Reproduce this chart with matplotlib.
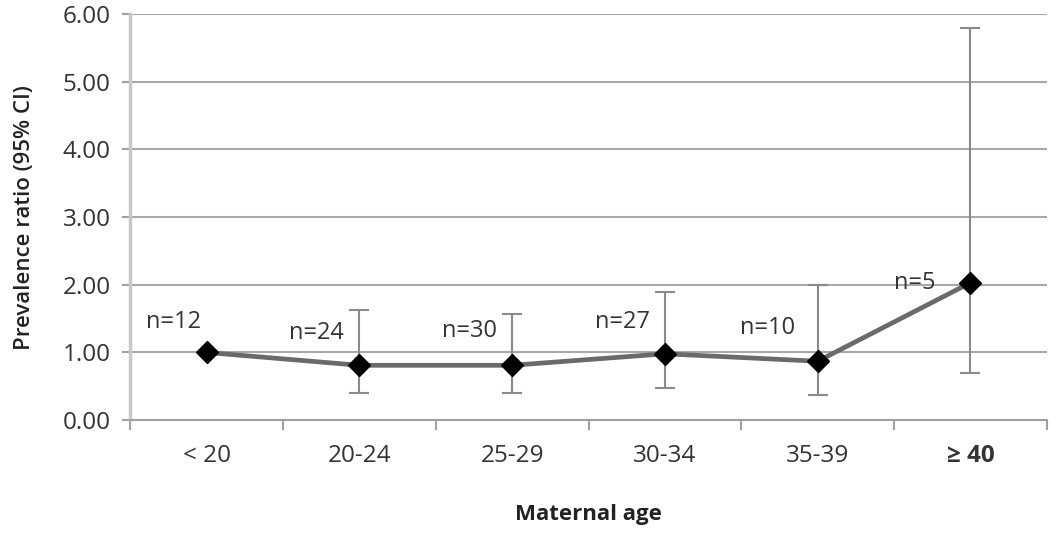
import matplotlib
matplotlib.use("Agg")
import matplotlib.pyplot as plt
import numpy as np

categories = ["< 20", "20-24", "25-29", "30-34", "35-39", "\u2265 40"]
ratio = [1.00, 0.81, 0.81, 0.98, 0.87, 2.03]
ci_low = [1.00, 0.40, 0.40, 0.47, 0.37, 0.70]
ci_high = [1.00, 1.62, 1.57, 1.90, 2.00, 5.80]
n_labels = ["n=12", "n=24", "n=30", "n=27", "n=10", "n=5"]
yticks = [0, 1, 2, 3, 4, 5, 6]

# label offsets in pixels (styling)
label_offsets = [(-33, 30), (-43, 32), (-43, 34), (-42, 32), (-50, 33), (-56, 0)]

plt.rcParams['font.family'] = ['Open Sans', 'DejaVu Sans']

fig = plt.figure(figsize=(10.5, 5.4), dpi=100)
ax = fig.add_axes([0.124, 0.222, 0.873, 0.752])

x = np.arange(len(categories))
r = np.array(ratio)
lo = np.array(ci_low)
hi = np.array(ci_high)
has_err = hi > lo
ax.errorbar(x[has_err], r[has_err], yerr=[r[has_err] - lo[has_err], hi[has_err] - r[has_err]],
            fmt='none', ecolor='#8a8a8a', elinewidth=1.5, capsize=7, capthick=1.5, zorder=3)
ax.plot(x, r, color='#6a6a6a', lw=3.4, marker='D', markersize=11,
        markerfacecolor='black', markeredgecolor='black', zorder=4)

for xi, yi, lab, off in zip(x, r, n_labels, label_offsets):
    ax.annotate(lab, (xi, yi), xytext=off, textcoords='offset pixels',
                ha='center', va='center', fontsize=17, color='#333333', zorder=5)

ax.set_xlim(-0.5, len(categories) - 0.5)
ax.set_ylim(0, 6)
ax.set_yticks(yticks)
ax.set_yticklabels([f"{v:.2f}" for v in yticks])
ax.yaxis.grid(True, color='#a8a8a8', lw=1.5)
ax.set_axisbelow(True)

ax.set_xticks(x)
ax.set_xticklabels(categories)
ax.set_xticks(np.arange(-0.5, len(categories)), minor=True)
ax.tick_params(axis='x', which='major', length=0, pad=17, labelsize=17.5, labelcolor='#333333')
ax.tick_params(axis='x', which='minor', length=7, width=1.5, color='#a0a0a0', direction='out')
ax.tick_params(axis='y', length=6, width=1.5, color='#a0a0a0', labelsize=17.5, labelcolor='#333333', pad=8)
ax.get_xticklabels()[-1].set_fontweight('bold')

for s in ['top', 'right']:
    ax.spines[s].set_visible(False)
ax.spines['left'].set_color('#c8c8c8')
ax.spines['left'].set_linewidth(2.5)
ax.spines['bottom'].set_color('#a0a0a0')
ax.spines['bottom'].set_linewidth(1.5)

ax.set_xlabel("Maternal age", fontsize=16, fontweight='bold', color='#222222', labelpad=26)
ax.set_ylabel("Prevalence ratio (95% CI)", fontsize=16, fontweight='semibold', color='#222222', labelpad=20)

fig.savefig("out.png", dpi=100)
